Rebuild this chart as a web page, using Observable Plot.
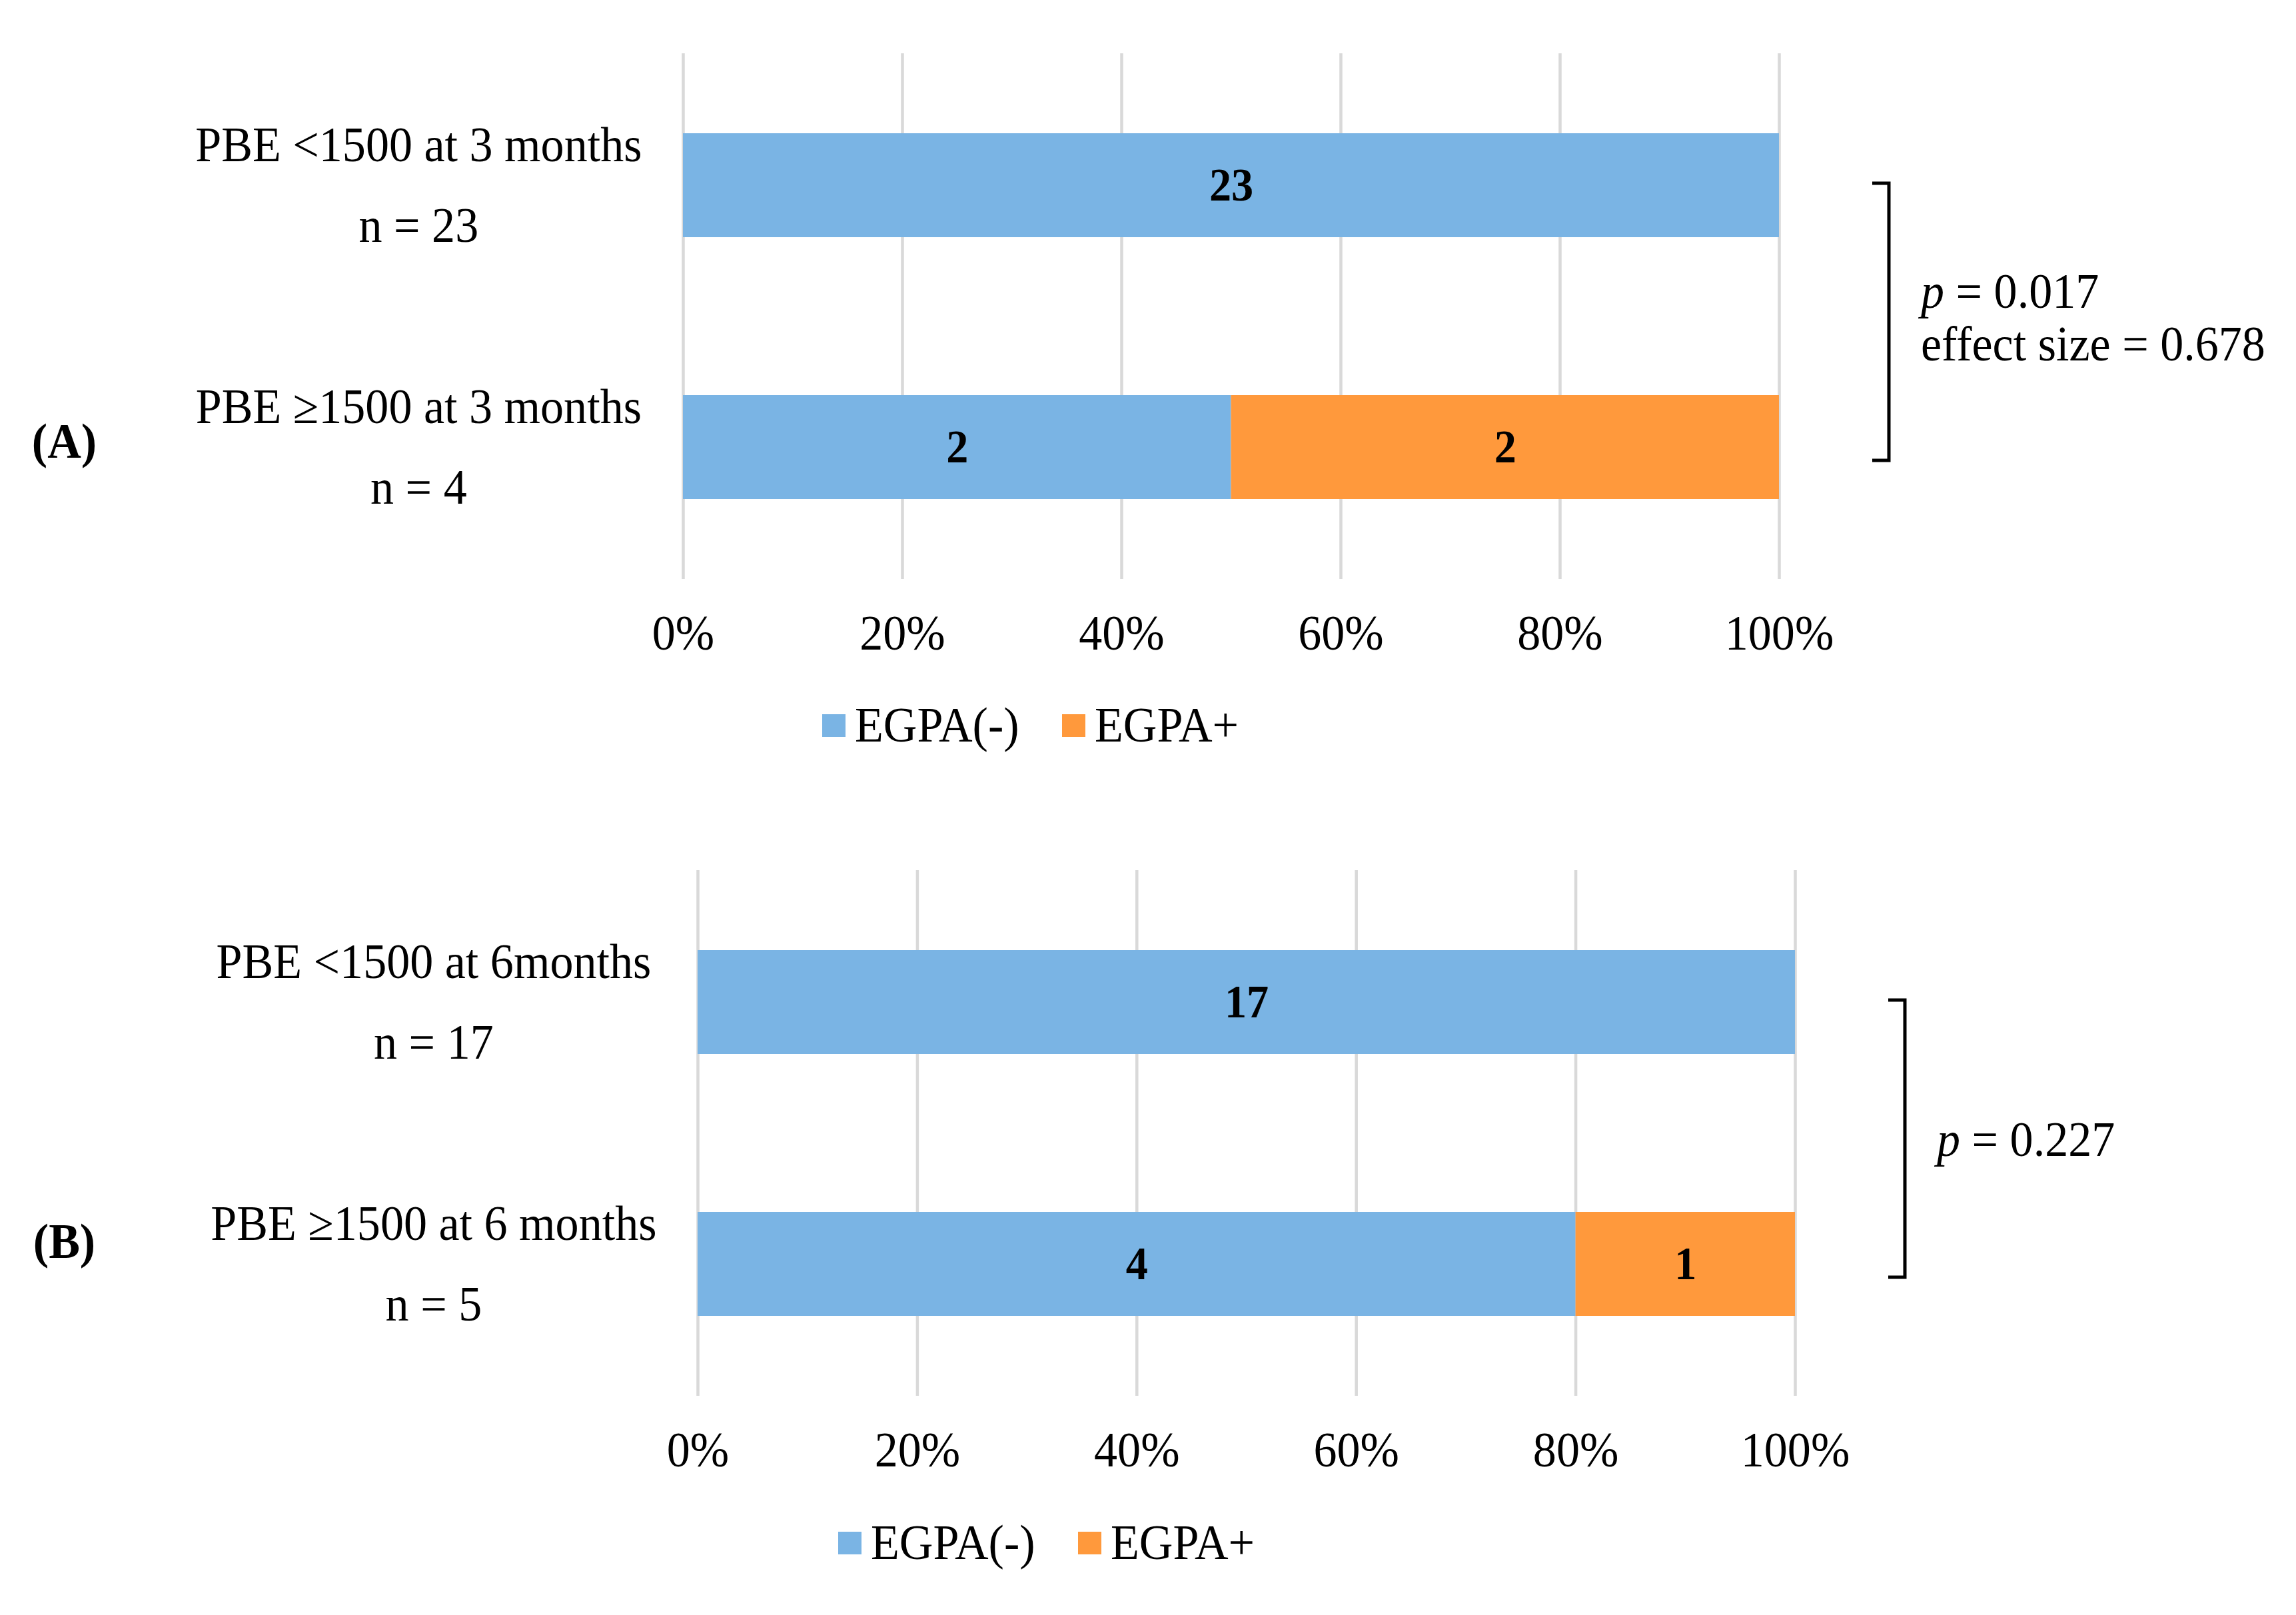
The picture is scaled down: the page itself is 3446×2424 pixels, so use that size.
<!DOCTYPE html>
<html>
<head>
<meta charset="utf-8">
<script src="https://cdn.jsdelivr.net/npm/d3@7"></script>
<script src="https://cdn.jsdelivr.net/npm/@observablehq/plot@0.6"></script>
<style>
  html, body { margin: 0; padding: 0; background: #fff; }
  #root { position: relative; width: 3446px; height: 2424px; background: #fff; overflow: hidden;
          font-family: "Liberation Serif", "Times New Roman", serif; color: #000; }
  .legend { position: absolute; display: flex; align-items: center; line-height: 1; white-space: nowrap; }
  .legend .sw { width: 35px; height: 34px; margin-right: 14px; flex: none; }
  .legend .item { display: flex; align-items: center; margin-right: 62px; }
  .legend .lab { display: inline-block; font-size: 73px; transform: scaleX(0.96); transform-origin: left center; }
</style>
</head>
<body>
<div id="root"></div>
<script>
// ---------------- data ----------------
const xTicks = [0, 0.2, 0.4, 0.6, 0.8, 1];
const groups = ["EGPA(-)", "EGPA+"];
const groupColors = ["#7ab4e4", "#ff993c"];

const panelLabelA = "(A)";
const categoriesA = ["PBE <1500 at 3 months", "PBE \u22651500 at 3 months"];
const nA = [23, 4];
const negA = [23, 2];
const posA = [0, 2];
const pValueA = "0.017";
const effectSizeA = "0.678";

const panelLabelB = "(B)";
const categoriesB = ["PBE <1500 at 6months", "PBE \u22651500 at 6 months"];
const nB = [17, 5];
const negB = [17, 4];
const posB = [0, 1];
const pValueB = "0.227";

// ---------------- helpers ----------------
const FONT = "'Liberation Serif', 'Times New Roman', serif";
const FS = 73;       // text size
const SX = 0.96;     // slight horizontal squeeze of the glyphs, as in the original
const ctx = document.createElement("canvas").getContext("2d");
function textWidth(s, size) { ctx.font = `${size}px ${FONT}`; return ctx.measureText(s).width * SX; }

function squeeze(svg) {
  svg.querySelectorAll("text").forEach(t => {
    const x = parseFloat(t.getAttribute("x") || "0") || 0;
    const tr = t.getAttribute("transform") || "";
    t.setAttribute("transform", `${tr} translate(${x},0) scale(${SX},1) translate(${-x},0)`);
  });
}

function bracket(cats, lines) {
  return (index, scales) => {
    const x = scales.x, y = scales.y;
    const bw = y.bandwidth ? y.bandwidth() : 0;
    const xr = x(1) + 165;
    const y1 = y(cats[0]) + bw / 2 - 3;
    const y2 = y(cats[1]) + bw / 2 + 20;
    const g = d3.create("svg:g");
    g.append("path")
      .attr("d", `M${xr - 25},${y1}H${xr}V${y2}H${xr - 25}`)
      .attr("fill", "none").attr("stroke", "#000").attr("stroke-width", 5);
    const mid = (y1 + y2) / 2 - (lines.length > 1 ? 7 : 0);
    lines.forEach((ln, i) => {
      const t = g.append("text")
        .attr("x", xr + 48)
        .attr("y", mid + (i - (lines.length - 1) / 2) * 79)
        .attr("dy", "0.35em")
        .attr("text-anchor", "start")
        .attr("font-size", FS)
        .attr("fill", "#000");
      ln.forEach(([str, italic]) => {
        t.append("tspan").attr("font-style", italic ? "italic" : "normal").text(str);
      });
    });
    return g.node();
  };
}

function makePanel({panelLabel, panelDy, categories, ns, neg, pos, marginLeft, marginRight, lines}) {
  const rows = [];
  categories.forEach((c, i) => {
    if (neg[i] > 0) rows.push({cat: c, group: groups[0], count: neg[i]});
    if (pos[i] > 0) rows.push({cat: c, group: groups[1], count: pos[i]});
  });
  const labelRows = categories.map((c, i) => ({cat: c, text: `${c}\nn = ${ns[i]}`}));
  const w = d3.max(categories, c => textWidth(c, FS));
  const labelDx = -(62 + w / 2);

  const svg = Plot.plot({
    width: 3446,
    height: 1009,
    marginTop: 80,
    marginBottom: 140,
    marginLeft,
    marginRight,
    style: {fontFamily: FONT, fontSize: FS + "px", background: "transparent", color: "#000", overflow: "visible"},
    x: {domain: [0, 1], ticks: xTicks, tickFormat: d3.format(".0%"), tickSize: 0, tickPadding: 54, label: null},
    y: {domain: categories, paddingInner: 0.602, paddingOuter: 0.3035, axis: null},
    color: {domain: groups, range: groupColors},
    marks: [
      Plot.ruleX(xTicks, {stroke: "#d9d9d9", strokeWidth: 4.5}),
      Plot.barX(rows, Plot.stackX({x: "count", y: "cat", fill: "group", offset: "normalize"})),
      Plot.text(rows, Plot.stackX({x: "count", y: "cat", z: "group", text: d => String(d.count),
        offset: "normalize", fontWeight: "bold", fontSize: 69, fill: "#000"})),
      Plot.text(labelRows, {y: "cat", text: "text", frameAnchor: "left", dx: labelDx, dy: -15,
        textAnchor: "middle", lineHeight: 1.67, fontSize: FS, fill: "#000"}),
      Plot.text([panelLabel], {y: () => categories[1], text: d => d, frameAnchor: "left",
        dx: 96 - marginLeft, dy: panelDy, textAnchor: "middle", fontWeight: "bold", fontSize: FS, fill: "#000"}),
      bracket(categories, lines)
    ]
  });
  squeeze(svg);
  return svg;
}

function makeLegend(left, top) {
  const div = document.createElement("div");
  div.className = "legend";
  div.style.left = left + "px";
  div.style.top = top + "px";
  groups.forEach((g, i) => {
    const item = document.createElement("div");
    item.className = "item";
    const sw = document.createElement("div");
    sw.className = "sw";
    sw.style.background = groupColors[i];
    const tx = document.createElement("span");
    tx.className = "lab";
    tx.textContent = g;
    const box = document.createElement("span");
    box.style.display = "inline-block";
    box.style.width = (textWidth(g, FS) + 2) + "px";
    box.appendChild(tx);
    item.appendChild(sw); item.appendChild(box);
    div.appendChild(item);
  });
  return div;
}

const root = document.getElementById("root");

const svgA = makePanel({
  panelLabel: panelLabelA, panelDy: -8, categories: categoriesA, ns: nA, neg: negA, pos: posA,
  marginLeft: 1025, marginRight: 3446 - 2670,
  lines: [[["p", true], [" = " + pValueA, false]], [["effect size = " + effectSizeA, false]]]
});
svgA.style.position = "absolute"; svgA.style.left = "0px"; svgA.style.top = "0px";
root.appendChild(svgA);
root.appendChild(makeLegend(1234, 1092 - 40));

const svgB = makePanel({
  panelLabel: panelLabelB, panelDy: -33, categories: categoriesB, ns: nB, neg: negB, pos: posB,
  marginLeft: 1047, marginRight: 3446 - 2694,
  lines: [[["p", true], [" = " + pValueB, false]]]
});
svgB.style.position = "absolute"; svgB.style.left = "0px"; svgB.style.top = "1226px";
root.appendChild(svgB);
root.appendChild(makeLegend(1258, 2319 - 40));
</script>
</body>
</html>
